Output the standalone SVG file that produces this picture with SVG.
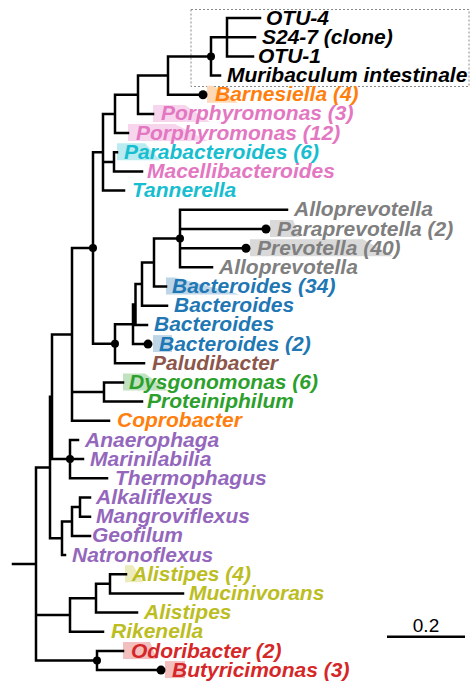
<svg xmlns="http://www.w3.org/2000/svg" width="471" height="681" viewBox="0 0 471 681">
<style>
.lb{font-family:"Liberation Sans",Arial,sans-serif;font-weight:bold;font-style:italic;font-size:21px}
.k{fill:#000}.or{fill:#ff7f0e}.pk{fill:#e377c2}.cy{fill:#17becf}.gy{fill:#7f7f7f}.bl{fill:#1f77b4}.br{fill:#8c564b}.gr{fill:#2ca02c}.pu{fill:#9467bd}.ol{fill:#bcbd22}.rd{fill:#d62728}
.br-l{fill:none;stroke:#000;stroke-width:2.5;stroke-linecap:square}
.dot{fill:#000}
</style>
<rect width="471" height="681" fill="#fff"/>
<rect x="191" y="9.5" width="278" height="77" fill="none" stroke="#888" stroke-width="1" stroke-dasharray="2,2"/>
<g id="highlights">
<polygon points="207,85.7 213,85.7 238,102.7 207,102.7" fill="#ffd8b5"/>
<polygon points="153,104.9 185,104.9 210,121.9 153,121.9" fill="#f7d6ed"/>
<polygon points="128,124.1 175,124.1 208,141.1 128,141.1" fill="#f7d6ed"/>
<polygon points="117,143.3 145,143.3 160,160.3 117,160.3" fill="#b9ebf0"/>
<polygon points="270,220 293,220 300,237 270,237" fill="#d9d9d9"/>
<polygon points="250,239.2 363,239.2 393,256.2 250,256.2" fill="#d9d9d9"/>
<polygon points="166,277.5 175,277.5 240,294.5 166,294.5" fill="#bcd6e8"/>
<polygon points="153,335.1 172,335.1 172,352.1 153,352.1" fill="#bcd6e8"/>
<polygon points="123,373.4 145,373.4 168,390.4 123,390.4" fill="#c0e2c0"/>
<polygon points="125,565.2 133,565.2 143,582.2 125,582.2" fill="#ebebbd"/>
<polygon points="123,642 150,642 157,659 123,659" fill="#f3bebe"/>
<polygon points="165,661.1 185,661.1 185,678.1 165,678.1" fill="#f3bebe"/>
</g>
<g id="connectors">
<path class="br-l" d="M227 18V56.4M227 18H260M227 37.2H255M227 56.4H253
M211 37.2V75.5M211 37.2H227M211 75.5H220
M168 56.4V94.7M168 56.4H211M168 94.7H203
M138 75.5V113.9M138 75.5H168M138 113.9H153
M115 94.7V133.1M115 94.7H138M115 133.1H128
M114 152.3V171.4M114 152.3H117M114 171.4H142
M103 113.9V190.6M103 113.9H115M103 161.9H114M103 190.6H124
M180 209.8V267.3M180 209.8H287M180 229H266M180 248.2H246M180 267.3H212
M154 238.6V286.5M154 238.6H180M154 286.5H166
M142 262.5V305.7M142 262.5H154M142 305.7H167
M135.5 284.1V324.9M135.5 284.1H142M135.5 324.9H147
M133 304.5V344.1M133 304.5H135.5M133 344.1H148
M115 324.3V363.2M115 324.3H133M115 363.2H144
M93 152.25V343.8M93 152.25H103M93 343.8H115
M104 382.4V401.6M104 382.4H123M104 401.6H142
M72 248V420.8M72 248H93M72 392H104M72 420.8H109
M70 440V478.3M70 440H78M70 459.1H83M70 478.3H107
M52 334.4V459.1M52 334.4H72M52 459.1H70
M80 497.5V516.7M80 497.5H90M80 516.7H90
M72 507.1V535.9M72 507.1H80M72 535.9H90
M62 521.5V555M62 521.5H72M62 555H65
M50 396.8V538.2M50 396.8H52M50 538.2H62
M110 574.2V593.4M110 574.2H126M110 593.4H183
M96 583.8V612.6M96 583.8H110M96 612.6H137
M70 598.2V631.8M70 598.2H96M70 631.8H103
M97 651V670.1M97 651H123M97 670.1H161
M36 467.5V660.5M36 467.5H50M36 615H70M36 660.5H97
M13 564H36"/>
<circle class="dot" cx="211" cy="56.4" r="4"/>
<circle class="dot" cx="203" cy="94.7" r="4.5"/>
<circle class="dot" cx="93" cy="248" r="4"/>
<circle class="dot" cx="180" cy="238.6" r="4"/>
<circle class="dot" cx="266" cy="229" r="4.5"/>
<circle class="dot" cx="246" cy="248.2" r="4.5"/>
<circle class="dot" cx="115" cy="343.8" r="4"/>
<circle class="dot" cx="148" cy="344.1" r="4.5"/>
<circle class="dot" cx="70" cy="459.1" r="4"/>
<circle class="dot" cx="97" cy="660.5" r="4"/>
<circle class="dot" cx="161" cy="670.1" r="4.5"/>
</g>
<g class="lb">
<g id="otu4"><text class="k" x="266" y="24.5">OTU-4</text></g>
<g id="s247"><text class="k" x="262" y="43.7">S24-7 (clone)</text></g>
<g id="otu1"><text class="k" x="258" y="62.9">OTU-1</text></g>
<g id="muribaculum"><text class="k" x="227" y="82">Muribaculum intestinale</text></g>
<g id="barnesiella"><text class="or" x="215" y="101.2">Barnesiella (4)</text></g>
<g id="porph3"><text class="pk" x="161" y="120.4">Porphyromonas (3)</text></g>
<g id="porph12"><text class="pk" x="136" y="139.6">Porphyromonas (12)</text></g>
<g id="parabact"><text class="cy" x="124" y="158.8">Parabacteroides (6)</text></g>
<g id="macelli"><text class="pk" x="147" y="177.9">Macellibacteroides</text></g>
<g id="tannerella"><text class="cy" x="132" y="197.1">Tannerella</text></g>
<g id="allo1"><text class="gy" x="294" y="216.3">Alloprevotella</text></g>
<g id="paraprev"><text class="gy" x="277" y="235.5">Paraprevotella (2)</text></g>
<g id="prevotella"><text class="gy" x="257" y="254.7">Prevotella (40)</text></g>
<g id="allo2"><text class="gy" x="219" y="273.8">Alloprevotella</text></g>
<g id="bact34"><text class="bl" x="172" y="293">Bacteroides (34)</text></g>
<g id="bact-a"><text class="bl" x="174" y="312.2">Bacteroides</text></g>
<g id="bact-b"><text class="bl" x="154" y="331.4">Bacteroides</text></g>
<g id="bact2"><text class="bl" x="159" y="350.6">Bacteroides (2)</text></g>
<g id="paludibacter"><text class="br" x="152" y="369.7">Paludibacter</text></g>
<g id="dysgonomonas"><text class="gr" x="129" y="388.9">Dysgonomonas (6)</text></g>
<g id="proteiniphilum"><text class="gr" x="147" y="408.1">Proteiniphilum</text></g>
<g id="coprobacter"><text class="or" x="117" y="427.3">Coprobacter</text></g>
<g id="anaerophaga"><text class="pu" x="85" y="446.5">Anaerophaga</text></g>
<g id="marinilabilia"><text class="pu" x="90" y="465.6">Marinilabilia</text></g>
<g id="thermophagus"><text class="pu" x="115" y="484.8">Thermophagus</text></g>
<g id="alkaliflexus"><text class="pu" x="96" y="504">Alkaliflexus</text></g>
<g id="mangroviflexus"><text class="pu" x="96" y="523.2">Mangroviflexus</text></g>
<g id="geofilum"><text class="pu" x="92" y="542.4">Geofilum</text></g>
<g id="natronoflexus"><text class="pu" x="72" y="561.5">Natronoflexus</text></g>
<g id="alistipes4"><text class="ol" x="132" y="580.7">Alistipes (4)</text></g>
<g id="mucinivorans"><text class="ol" x="189" y="599.9">Mucinivorans</text></g>
<g id="alistipes"><text class="ol" x="144" y="619.1">Alistipes</text></g>
<g id="rikenella"><text class="ol" x="111" y="638.3">Rikenella</text></g>
<g id="odoribacter"><text class="rd" x="131" y="657.5">Odoribacter (2)</text></g>
<g id="butyricimonas"><text class="rd" x="172" y="676.6">Butyricimonas (3)</text></g>
</g>
<g id="scalebar">
<line x1="387" y1="636.7" x2="465" y2="636.7" stroke="#000" stroke-width="2.5"/>
<text x="426" y="632" text-anchor="middle" font-family="Liberation Sans, Arial, sans-serif" font-size="19" fill="#000">0.2</text>
</g>
</svg>
